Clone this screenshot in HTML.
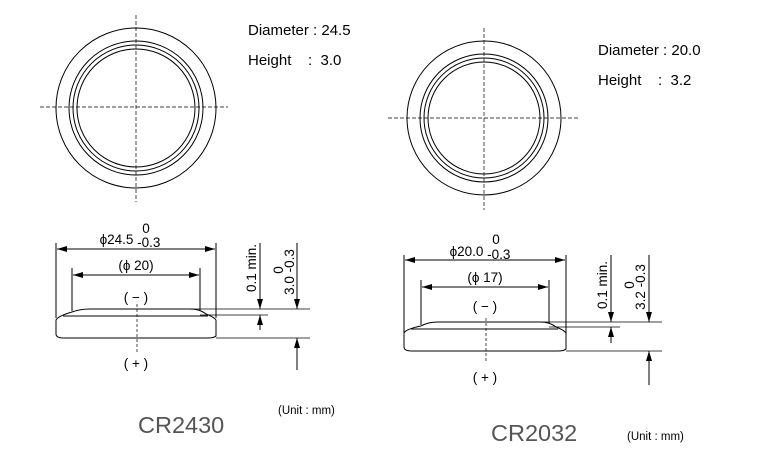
<!DOCTYPE html>
<html><head><meta charset="utf-8"><style>
html,body{margin:0;padding:0;background:#fff;}
svg{display:block;font-family:"Liberation Sans",Arial,sans-serif;}
</style></head><body>
<svg width="759" height="458" viewBox="0 0 759 458" xmlns="http://www.w3.org/2000/svg">
<defs>
<marker id="a" viewBox="0 0 10 6" refX="10" refY="3" markerWidth="10" markerHeight="6" orient="auto-start-reverse" markerUnits="userSpaceOnUse"><path d="M0,0 L10,3 L0,6z" fill="#000"/></marker>
</defs>
<g fill="none" stroke="#000" stroke-width="1">
<circle cx="136" cy="108" r="80"/>
<circle cx="136" cy="108" r="67"/>
<circle cx="136" cy="108" r="63"/>
<circle cx="136" cy="108" r="59"/>
<line x1="40" y1="107" x2="228" y2="107" stroke-dasharray="4,2" stroke-width="0.7"/>
<line x1="136" y1="15" x2="136" y2="202" stroke-dasharray="4,2" stroke-width="0.7"/>
<circle cx="484" cy="118" r="77"/>
<circle cx="484" cy="118" r="64"/>
<circle cx="484" cy="118" r="60"/>
<circle cx="484" cy="118" r="56"/>
<line x1="388" y1="118" x2="578" y2="118" stroke-dasharray="4,2" stroke-width="0.7"/>
<line x1="484" y1="28" x2="484" y2="210" stroke-dasharray="4,2" stroke-width="0.7"/>

<line x1="56" y1="243" x2="56" y2="318"/>
<line x1="216" y1="243" x2="216" y2="318"/>
<line x1="57" y1="249" x2="215" y2="249" marker-start="url(#a)" marker-end="url(#a)"/>
<line x1="72" y1="268" x2="72" y2="311"/>
<line x1="200" y1="268" x2="200" y2="312"/>
<line x1="73" y1="275" x2="199" y2="275" marker-start="url(#a)" marker-end="url(#a)"/>
<path d="M72,312 Q80,309 90,309 L190,309 Q200,309 206,314 Q214,317 216,320 L216,336 Q214,338 208,338 L64,338 Q56,338 56,334 L56,320 Q58,316 72,312 Z" fill="#fff"/>
<line x1="63" y1="316" x2="208" y2="316"/>
<line x1="137" y1="304" x2="137" y2="352" stroke-dasharray="3,2" stroke-width="0.7"/>
<line x1="190" y1="309" x2="310" y2="309" stroke-width="0.8"/>
<line x1="200" y1="315" x2="268" y2="315" stroke-width="0.8"/>
<line x1="216" y1="338" x2="310" y2="338" stroke-width="0.8"/>
<line x1="260" y1="243" x2="260" y2="309" marker-end="url(#a)"/>
<line x1="260" y1="330" x2="260" y2="315" marker-end="url(#a)"/>
<line x1="297" y1="243" x2="297" y2="309" marker-end="url(#a)"/>
<line x1="297" y1="370" x2="297" y2="338" marker-end="url(#a)"/>

<line x1="404" y1="255" x2="404" y2="345"/>
<line x1="566" y1="255" x2="566" y2="340"/>
<line x1="405" y1="260" x2="565" y2="260" marker-start="url(#a)" marker-end="url(#a)"/>
<line x1="421" y1="280" x2="421" y2="325"/>
<line x1="549" y1="280" x2="549" y2="325"/>
<line x1="422" y1="287" x2="548" y2="287" marker-start="url(#a)" marker-end="url(#a)"/>
<path d="M421,326 Q428,322 438,322 L540,322 Q550,322 556,327 Q564,330 566,333 L566,349 Q564,351 558,351 L412,351 Q404,351 404,347 L404,333 Q406,329 421,326 Z" fill="#fff"/>
<line x1="411" y1="329" x2="558" y2="329"/>
<line x1="486" y1="318" x2="486" y2="363" stroke-dasharray="3,2" stroke-width="0.7"/>
<line x1="540" y1="322" x2="662" y2="322" stroke-width="0.8"/>
<line x1="549" y1="327" x2="620" y2="327" stroke-width="0.8"/>
<line x1="566" y1="351" x2="662" y2="351" stroke-width="0.8"/>
<line x1="611" y1="255" x2="611" y2="322" marker-end="url(#a)"/>
<line x1="611" y1="343" x2="611" y2="327" marker-end="url(#a)"/>
<line x1="649" y1="255" x2="649" y2="322" marker-end="url(#a)"/>
<line x1="649" y1="385" x2="649" y2="351" marker-end="url(#a)"/>
</g>

<g fill="#000" font-size="15">
<text x="248" y="35">Diameter : 24.5</text>
<text x="248" y="65" xml:space="preserve">Height    :  3.0</text>
<text x="598" y="55">Diameter : 20.0</text>
<text x="598" y="85" xml:space="preserve">Height    :  3.2</text>
</g>
<g fill="#000" font-size="13.5" text-anchor="middle">
<text x="146" y="233">0</text>
<text x="130" y="244">ϕ24.5 <tspan dy="3">-0.3</tspan></text>
<text x="136" y="270">(ϕ 20)</text>
<text x="136" y="302">( − )</text>
<text x="136" y="368">( + )</text>
<text x="496" y="244">0</text>
<text x="480" y="256">ϕ20.0 <tspan dy="3">-0.3</tspan></text>
<text x="485" y="282">(ϕ 17)</text>
<text x="485" y="311">( − )</text>
<text x="485" y="382">( + )</text>
<text transform="translate(256,268) rotate(-90)">0.1 min.</text>
<text transform="translate(283,270) rotate(-90)">0</text>
<text transform="translate(294,272) rotate(-90)">3.0 -0.3</text>
<text transform="translate(607,285) rotate(-90)">0.1 min.</text>
<text transform="translate(634,285) rotate(-90)">0</text>
<text transform="translate(645,287) rotate(-90)">3.2 -0.3</text>
</g>
<g fill="#555" font-size="23.5">
<text x="138" y="433">CR2430</text>
<text x="491" y="441">CR2032</text>
</g>
<g fill="#000" font-size="11.5">
<text x="278" y="414">(Unit : mm)</text>
<text x="627" y="440">(Unit : mm)</text>
</g>
</svg>
</body></html>
